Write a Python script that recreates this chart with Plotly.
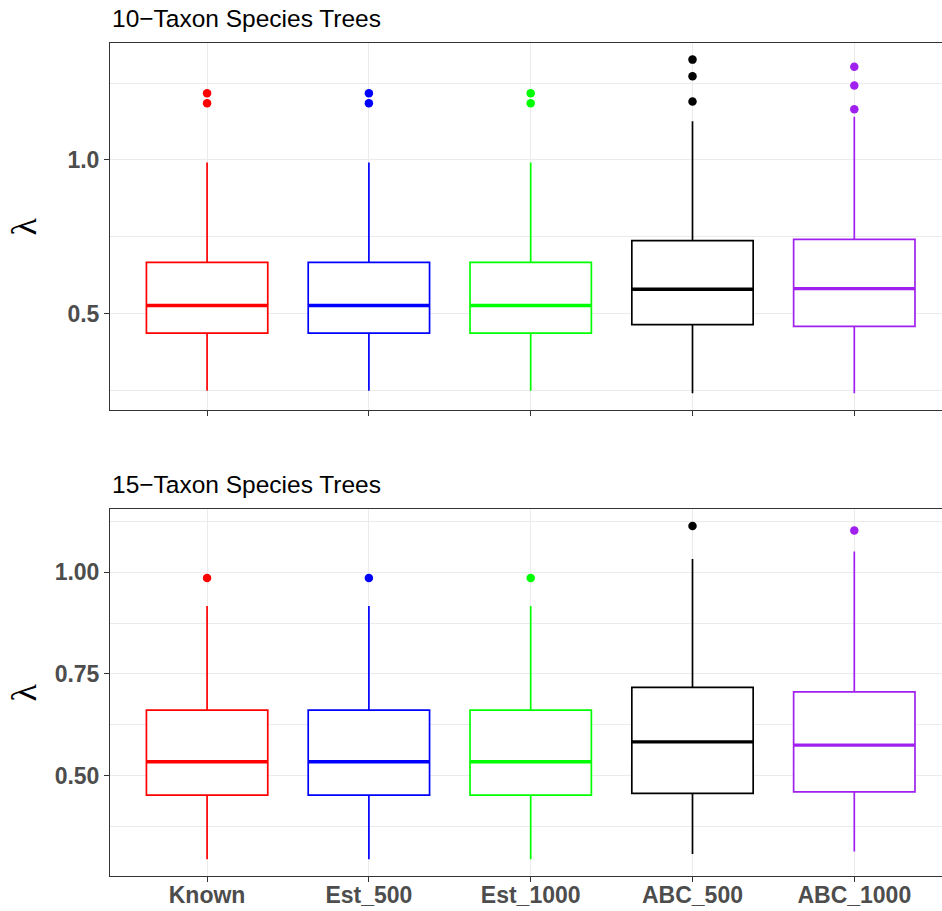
import plotly.graph_objects as go
from plotly.subplots import make_subplots

# Methods and their colours
methods = ["Known", "Est_500", "Est_1000", "ABC_500", "ABC_1000"]
colors = ["#FF0000", "#0000FF", "#00FF00", "#000000", "#A020F0"]

# 10-taxon species trees: box summary statistics of lambda
q1_10 = [0.437, 0.437, 0.437, 0.465, 0.459]
med_10 = [0.527, 0.527, 0.527, 0.580, 0.582]
q3_10 = [0.667, 0.667, 0.667, 0.738, 0.742]
lo_10 = [0.250, 0.250, 0.250, 0.242, 0.242]
hi_10 = [0.992, 0.992, 0.992, 1.126, 1.140]
out_10 = [[1.217, 1.184], [1.217, 1.184], [1.217, 1.184],
          [1.326, 1.272, 1.190], [1.303, 1.242, 1.165]]

# 15-taxon species trees
q1_15 = [0.452, 0.452, 0.452, 0.456, 0.460]
med_15 = [0.534, 0.534, 0.534, 0.583, 0.575]
q3_15 = [0.661, 0.661, 0.661, 0.717, 0.706]
lo_15 = [0.294, 0.294, 0.294, 0.307, 0.313]
hi_15 = [0.917, 0.917, 0.917, 1.033, 1.051]
out_15 = [[0.986], [0.986], [0.986], [1.114], [1.103]]

panel_titles = ["10\u2212Taxon Species Trees", "15\u2212Taxon Species Trees"]

# y-axis ticks per panel
y_ticks_10 = [0.5, 1.0]
y_ticklabels_10 = ["0.5", "1.0"]
y_minor_10 = [0.25, 0.75, 1.25]
y_ticks_15 = [0.50, 0.75, 1.00]
y_ticklabels_15 = ["0.50", "0.75", "1.00"]
y_minor_15 = [0.375, 0.625, 0.875, 1.125]

BOX_W = 0.75
GRID = "#EBEBEB"
BORDER = "#333333"
TICKFONT = dict(family="Liberation Sans, Arial, sans-serif", size=23,
                color="#4D4D4D", weight="bold")

fig = make_subplots(rows=2, cols=1)

panels = [
    (1, q1_10, med_10, q3_10, lo_10, hi_10, out_10),
    (2, q1_15, med_15, q3_15, lo_15, hi_15, out_15),
]

for row, q1, med, q3, lo, hi, outs in panels:
    for i, (name, col) in enumerate(zip(methods, colors)):
        fig.add_trace(go.Box(
            x=[i], q1=[q1[i]], median=[med[i]], q3=[q3[i]],
            lowerfence=[lo[i]], upperfence=[hi[i]],
            name=name, width=BOX_W, whiskerwidth=0,
            line=dict(color=col, width=1.7), fillcolor="white",
            boxpoints=False, showlegend=False, hoverinfo="skip",
        ), row=row, col=1)
        # thicker median bar
        fig.add_trace(go.Scatter(
            x=[i - BOX_W / 2, i + BOX_W / 2], y=[med[i], med[i]],
            mode="lines", line=dict(color=col, width=3.4),
            showlegend=False, hoverinfo="skip",
        ), row=row, col=1)
        # outliers
        fig.add_trace(go.Scatter(
            x=[i] * len(outs[i]), y=outs[i], mode="markers",
            marker=dict(color=col, size=8.5, line=dict(width=0)),
            showlegend=False, hoverinfo="skip",
        ), row=row, col=1)

x_common = dict(
    range=[-0.6, 4.542], tickvals=list(range(len(methods))), ticktext=methods,
    showgrid=True, gridcolor=GRID, gridwidth=1, zeroline=False,
    showline=True, mirror=True, linecolor=BORDER, linewidth=1,
    ticks="outside", ticklen=5, tickwidth=1, tickcolor=BORDER,
    tickfont=TICKFONT, automargin=False, ticklabelstandoff=-7,
)
fig.update_xaxes(**x_common)
fig.update_xaxes(showticklabels=False, row=1, col=1)

y_common = dict(
    showgrid=True, gridcolor=GRID, gridwidth=1, zeroline=False,
    showline=True, mirror=False, linecolor=BORDER, linewidth=1,
    ticks="outside", ticklen=5, tickwidth=1, tickcolor=BORDER,
    tickfont=TICKFONT, automargin=False,
)
fig.update_yaxes(**y_common)
fig.update_yaxes(range=[0.189, 1.380], tickvals=y_ticks_10, ticktext=y_ticklabels_10,
                 minor=dict(tickvals=y_minor_10, showgrid=True, gridcolor=GRID,
                            gridwidth=0.6, ticks=""),
                 domain=[0.560, 1.0], row=1, col=1)
fig.update_yaxes(range=[0.253, 1.155], tickvals=y_ticks_15, ticktext=y_ticklabels_15,
                 minor=dict(tickvals=y_minor_15, showgrid=True, gridcolor=GRID,
                            gridwidth=0.6, ticks=""),
                 domain=[0.0, 0.4402], row=2, col=1)

annotations = []
for title, ty in zip(panel_titles, [1.0295, 0.4701]):
    annotations.append(dict(
        text=title, xref="paper", yref="paper", x=0.0, y=ty,
        xanchor="left", yanchor="middle", showarrow=False,
        font=dict(family="Liberation Sans, Arial, sans-serif", size=24.5, color="black"),
    ))
for ly in [0.7797, 0.2201]:
    annotations.append(dict(
        text="\u03bb", xref="paper", yref="paper", x=-0.1035, y=ly,
        xanchor="center", yanchor="middle", textangle=-90, showarrow=False,
        font=dict(family="Liberation Serif, Times New Roman, serif", size=36, color="black"),
    ))

fig.update_layout(
    width=942, height=911,
    margin=dict(l=110, r=0, t=43, b=35),
    plot_bgcolor="white", paper_bgcolor="white",
    annotations=annotations,
    font=dict(family="Liberation Sans, Arial, sans-serif"),
)

fig.write_html("out.html")
